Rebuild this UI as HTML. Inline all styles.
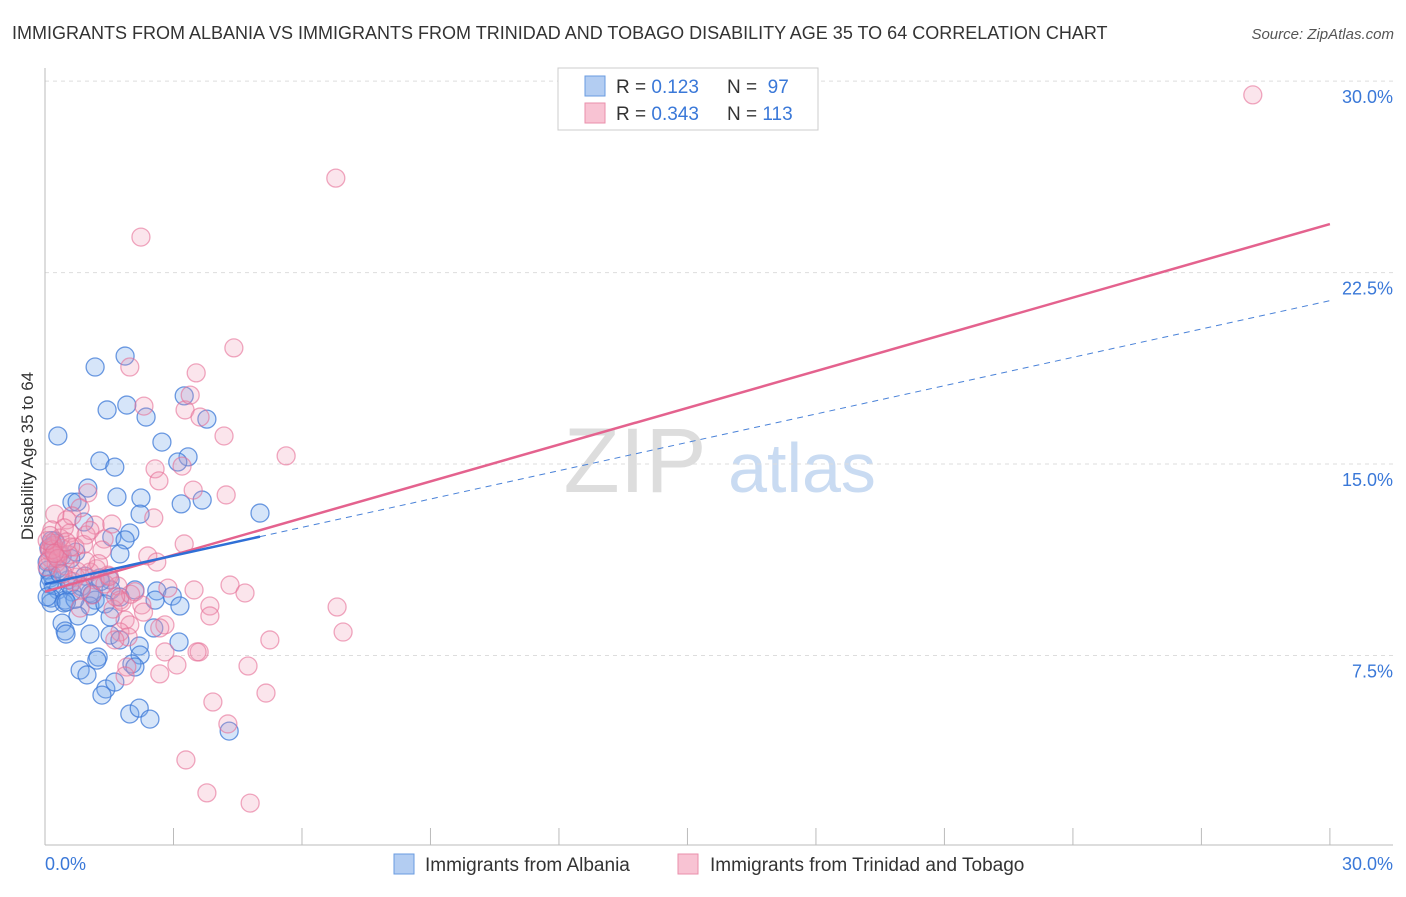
<!DOCTYPE html>
<html><head><meta charset="utf-8"><style>
body{margin:0;background:#fff;font-family:"Liberation Sans",sans-serif;}
svg text{font-family:"Liberation Sans",sans-serif;}
</style></head><body>
<svg id="chart" width="1406" height="892">
<text x="12" y="39" font-size="18" fill="#333">IMMIGRANTS FROM ALBANIA VS IMMIGRANTS FROM TRINIDAD AND TOBAGO DISABILITY AGE 35 TO 64 CORRELATION CHART</text>
<text x="1394" y="39" font-size="15" fill="#555" font-style="italic" text-anchor="end">Source: ZipAtlas.com</text>
<text x="33" y="456" font-size="17" fill="#333" text-anchor="middle" transform="rotate(-90 33 456)">Disability Age 35 to 64</text>
<g>
<text x="635" y="492" font-size="92" fill="#ddd" font-family="Liberation Serif" text-anchor="middle">ZIP</text>
<text x="802" y="492" font-size="70" fill="#c9dbf2" text-anchor="middle">atlas</text>
</g>
<g id="grid"></g><g id="axes"></g><g id="pts"></g><g id="lines"></g>
<g>
<rect x="558" y="68" width="260" height="62" fill="#fff" stroke="#ccc"/>
<rect x="585" y="76" width="20" height="20" fill="#b3cdf2" stroke="#6a9be0"/>
<rect x="585" y="103" width="20" height="20" fill="#f8c3d3" stroke="#ea8fab"/>
<text x="616" y="93" font-size="19" fill="#333">R = <tspan fill="#3a78d8">0.123</tspan></text>
<text x="727" y="93" font-size="19" fill="#333">N = <tspan fill="#3a78d8">&#160;97</tspan></text>
<text x="616" y="120" font-size="19" fill="#333">R = <tspan fill="#3a78d8">0.343</tspan></text>
<text x="727" y="120" font-size="19" fill="#333">N = <tspan fill="#3a78d8">113</tspan></text>
</g>
<g>
<rect x="394" y="854" width="20" height="20" fill="#b3cdf2" stroke="#6a9be0"/>
<text x="425" y="871" font-size="19" fill="#333">Immigrants from Albania</text>
<rect x="678" y="854" width="20" height="20" fill="#f8c3d3" stroke="#ea8fab"/>
<text x="710" y="871" font-size="19" fill="#333">Immigrants from Trinidad and Tobago</text>
</g>
</svg>
<script>
const yTicks=[7.5,15,22.5,30];
const yTickLabels=["7.5%","15.0%","22.5%","30.0%"];
const xTicks=[0,3,6,9,12,15,18,21,24,27,30];
const xEndLabels=["0.0%","30.0%"];
const blueX=[1.87,1.17,1.91,1.45,2.36,0.30,3.25,3.78,2.73,1.28,1.63,3.34,3.10,1.00,0.63,0.75,1.68,2.24,3.18,3.67,5.02,2.22,0.91,1.98,1.56,1.87,0.23,0.09,1.75,0.35,0.72,0.12,0.19,0.54,0.93,1.28,1.52,0.30,0.63,1.05,1.54,2.10,2.61,2.97,0.14,0.47,1.17,1.75,2.57,0.14,0.44,1.05,1.40,3.15,0.77,0.40,0.47,0.49,1.05,1.52,1.75,2.54,3.13,2.20,2.22,1.24,1.21,2.03,0.82,0.98,2.10,1.42,1.33,1.63,1.98,2.20,2.45,4.30,0.05,0.07,0.16,0.58,1.52,0.20,0.40,0.10,0.30,0.85,1.10,0.05,0.25,0.60,0.15,0.70,1.30,0.35,0.50];
const blueY=[19.23,18.80,17.31,17.12,16.84,16.10,17.67,16.76,15.86,15.12,14.88,15.28,15.08,14.06,13.51,13.51,13.71,13.67,13.44,13.59,13.08,13.04,12.73,12.30,12.14,12.03,11.99,11.71,11.48,11.52,11.55,10.54,10.26,10.46,10.61,10.54,10.46,10.07,9.99,9.95,10.07,10.07,10.03,9.83,9.75,9.67,9.67,9.79,9.67,9.56,9.56,9.44,9.52,9.44,9.05,8.77,8.46,8.34,8.34,8.30,8.11,8.58,8.03,7.87,7.52,7.44,7.32,7.17,6.93,6.74,7.05,6.19,5.95,6.46,5.21,5.44,5.01,4.54,11.16,10.85,10.65,10.26,9.01,11.80,11.40,10.30,10.90,10.20,9.90,9.80,11.90,11.30,12.00,9.70,10.40,10.70,9.60];
const pinkX=[28.20,6.79,2.24,4.41,1.98,3.53,2.31,3.27,3.39,3.62,4.18,5.63,3.20,2.57,2.66,3.46,4.23,1.00,0.82,0.23,0.51,0.63,2.54,1.17,1.56,0.16,0.58,0.96,1.38,3.25,0.12,0.35,0.70,1.33,2.40,2.61,0.12,0.26,0.05,0.47,1.05,1.47,0.72,1.17,4.32,4.67,2.87,3.48,1.70,1.10,1.75,2.26,3.85,6.82,3.85,1.59,0.82,6.96,1.87,1.98,2.80,2.68,1.75,1.94,5.25,1.63,2.80,3.60,3.55,3.08,1.91,2.68,4.74,1.87,5.16,3.92,4.27,3.29,3.78,4.79,0.10,0.20,0.30,0.15,0.25,0.40,0.08,0.18,0.55,0.90,1.20,0.65,0.35,0.45,1.40,1.80,2.00,0.75,1.25,0.05,0.30,0.22,0.60,0.95,1.50,2.10,0.12,0.42,0.85,1.65,2.30,0.50,1.05];
const pinkY=[29.46,26.20,23.89,19.55,18.80,18.57,17.27,17.12,17.70,16.84,16.10,15.32,14.92,14.81,14.34,13.98,13.79,13.87,13.28,13.04,12.81,12.97,12.89,12.61,12.65,12.42,12.30,12.22,12.06,11.87,11.71,11.55,11.75,11.63,11.40,11.16,11.32,11.12,10.97,11.01,10.77,10.65,10.57,10.46,10.26,9.95,10.14,10.07,10.22,9.87,9.67,9.48,9.44,9.40,9.05,9.32,9.36,8.42,8.89,8.70,8.70,8.58,8.42,8.23,8.11,8.11,7.64,7.64,7.64,7.13,7.05,6.78,7.09,6.70,6.03,5.68,4.82,3.41,2.12,1.72,11.60,11.80,11.50,11.90,11.40,11.70,11.20,11.65,11.45,11.85,10.90,10.40,12.10,12.50,10.30,9.60,9.90,10.80,11.10,12.00,11.30,11.50,11.75,11.20,10.60,10.00,12.20,10.70,10.10,9.80,9.20,11.95,12.40];
const blueFit=[10.3,0.37,5.02];
const pinkFit=[10.0,0.48,30];
const sx=v=>45+v*42.83, sy=v=>847-v*25.53;
const NS="http://www.w3.org/2000/svg";
function mk(t,p,a){const e=document.createElementNS(NS,t);for(const k in a)e.setAttribute(k,a[k]);p.appendChild(e);return e;}
const grid=document.getElementById('grid'),axes=document.getElementById('axes'),pts=document.getElementById('pts'),lines=document.getElementById('lines');
yTicks.forEach((v,i)=>{
 const l=mk('line',grid,{x1:45,x2:1393,y1:sy(v),y2:sy(v),stroke:'#ddd','stroke-dasharray':'4,4'});
 
 
 const t=mk('text',axes,{x:1393,y:sy(v)+22,'font-size':18,fill:'#3a78d8','text-anchor':'end'});
 t.textContent=yTickLabels[i];
 
 
});
const ax=mk('line',axes,{x1:45,x2:1393,y1:845,y2:845,stroke:'#bbb'});


const ay=mk('line',axes,{x1:45,x2:45,y1:68,y2:845,stroke:'#bbb'});


xTicks.forEach(v=>{
 const l=mk('line',axes,{x1:sx(v),x2:sx(v),y1:828,y2:845,stroke:'#bbb'});
 
 
});
const xl0=mk('text',axes,{x:45,y:870,'font-size':18,fill:'#3a78d8'});
xl0.textContent=xEndLabels[0];


const xl1=mk('text',axes,{x:1393,y:870,'font-size':18,fill:'#3a78d8','text-anchor':'end'});
xl1.textContent=xEndLabels[1];


blueX.forEach((x,i)=>{
 const c=mk('circle',pts,{cx:sx(x),cy:sy(blueY[i]),r:9,fill:'rgba(120,170,235,0.3)',stroke:'rgba(60,120,215,0.75)','stroke-width':1.3});
 
 
});
pinkX.forEach((x,i)=>{
 const c=mk('circle',pts,{cx:sx(x),cy:sy(pinkY[i]),r:9,fill:'rgba(240,150,180,0.25)',stroke:'rgba(230,110,150,0.6)','stroke-width':1.3});
 
 
});
const bd=mk('line',lines,{x1:sx(blueFit[2]),y1:sy(blueFit[0]+blueFit[1]*blueFit[2]),x2:sx(30),y2:sy(blueFit[0]+blueFit[1]*30),stroke:'#4a82d8','stroke-width':1,'stroke-dasharray':'6,5'});


const pl=mk('line',lines,{x1:sx(0),y1:sy(pinkFit[0]),x2:sx(pinkFit[2]),y2:sy(pinkFit[0]+pinkFit[1]*pinkFit[2]),stroke:'#e4628e','stroke-width':2.5});


const bl=mk('line',lines,{x1:sx(0),y1:sy(blueFit[0]),x2:sx(blueFit[2]),y2:sy(blueFit[0]+blueFit[1]*blueFit[2]),stroke:'#2f6fd6','stroke-width':2.5});


</script>
</body></html>
